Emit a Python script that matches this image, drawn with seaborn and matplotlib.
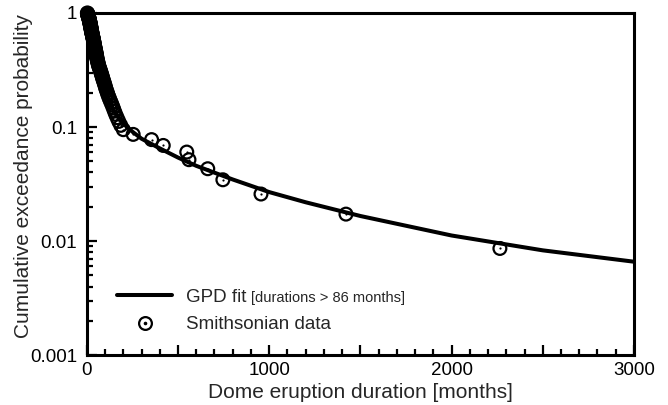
import numpy as np
import pandas as pd
import seaborn as sns
from matplotlib import pyplot as plt
from matplotlib.ticker import FixedLocator, MultipleLocator, FuncFormatter, LogLocator, NullFormatter

# Smithsonian dome eruption durations [months], sorted
durations = [3, 4, 4, 5, 5, 6, 7, 7, 8, 9, 10, 11, 12,
             12, 13, 13, 14, 15, 15, 16, 17, 17, 18, 18,
             19, 19, 20, 21, 21, 22, 22, 23, 24, 24, 25, 25,
             26, 27, 27, 28, 29, 30, 31, 31, 32, 33, 34,
             35, 36, 36, 37, 38, 39, 40, 40, 41, 42, 43, 44,
             45, 46, 47, 48, 49, 50, 51, 52, 53, 54, 55, 56,
             57, 59, 60, 62, 63,
             65, 67, 70, 72, 75, 77, 80, 82, 85, 87, 90, 93, 96, 99, 102, 105, 109,
             113, 117, 122, 127, 133, 139, 145, 151, 158, 166, 175, 186, 200,
             254, 355, 419, 548, 560, 663, 746, 955, 1421, 2265]

# GPD fit curve (durations > 86 months)
fit_months = [86, 100, 120, 150, 200, 250, 300, 400, 500, 600, 700, 800,
              1000, 1200, 1500, 2000, 2500, 3000]
fit_prob = [0.24, 0.204, 0.17, 0.138, 0.107, 0.091, 0.079, 0.065, 0.054, 0.0457,
            0.0398, 0.0347, 0.0269, 0.0219, 0.0166, 0.0112, 0.0083, 0.0066]

y_ticks = [1, 0.1, 0.01, 0.001]
y_tick_labels = ['1', '0.1', '0.01', '0.001']

# empirical exceedance probability
n = len(durations)
data = pd.DataFrame({'months': durations,
                     'prob': (n - np.arange(n)) / n})
fit = pd.DataFrame({'months': fit_months, 'prob': fit_prob})

sns.set_theme(style='ticks')
plt.rcParams['font.family'] = ['Liberation Sans', 'DejaVu Sans']

fig = plt.figure(figsize=(6.68, 4.05), dpi=100)
ax = fig.add_axes([0.130, 0.123, 0.819, 0.845])

sns.lineplot(data=fit, x='months', y='prob', color='black', linewidth=2.9, ax=ax)
sns.scatterplot(data=data, x='months', y='prob', s=85, facecolor='none',
                edgecolor='black', linewidth=1.6, ax=ax, clip_on=False, zorder=3)
sns.scatterplot(data=data, x='months', y='prob', s=2.5, color='black',
                linewidth=0, ax=ax, clip_on=False, zorder=3)

ax.set_yscale('log')
ax.set_xlim(0, 3000)
ax.set_ylim(0.001, 1)

ax.xaxis.set_major_locator(MultipleLocator(500))
ax.xaxis.set_minor_locator(MultipleLocator(100))
ax.xaxis.set_major_formatter(FuncFormatter(lambda v, p: '%d' % v if v % 1000 == 0 else ''))
ax.yaxis.set_major_locator(FixedLocator(y_ticks))
ax.set_yticklabels(y_tick_labels)
ax.yaxis.set_minor_locator(LogLocator(base=10, subs=np.arange(2, 10)))
ax.yaxis.set_minor_formatter(NullFormatter())

ax.tick_params(which='both', direction='in', top=False, right=False,
               width=1.6, colors='black')
ax.tick_params(which='major', length=7, labelsize=13.5, pad=5)
ax.tick_params(axis='y', which='major', pad=7)
ax.tick_params(which='minor', length=4)
for s in ax.spines.values():
    s.set_linewidth(2.2)
    s.set_color('black')

ax.set_xlabel('Dome eruption duration [months]', fontsize=15, labelpad=3)
ax.set_ylabel('Cumulative exceedance probability', fontsize=15)
ax.yaxis.set_label_coords(-0.099, 0.523)

line_h = plt.Line2D([], [], color='black', linewidth=2.9)
circ_h = plt.Line2D([], [], color='black', marker='o', markersize=9.2,
                    markerfacecolor='none', markeredgewidth=1.6, linestyle='none')
dot_h = plt.Line2D([], [], color='black', marker='o', markersize=1.6, linestyle='none')
leg = ax.legend([line_h, (circ_h, dot_h)], ['GPD fit', 'Smithsonian data'],
                loc='upper left', bbox_to_anchor=(0.055, 0.195), frameon=False,
                fontsize=13.5, handlelength=2.95, handletextpad=0.75,
                labelspacing=0.57, borderaxespad=0, borderpad=0)

# small note after "GPD fit" (needs the legend placed first)
fig.canvas.draw()
ax.annotate('[durations > 86 months]', xy=(1, 0), xycoords=leg.get_texts()[0],
            xytext=(3, 2.8), textcoords='offset points', fontsize=10.5,
            va='baseline', ha='left')

fig.savefig('out.png', dpi=100)
